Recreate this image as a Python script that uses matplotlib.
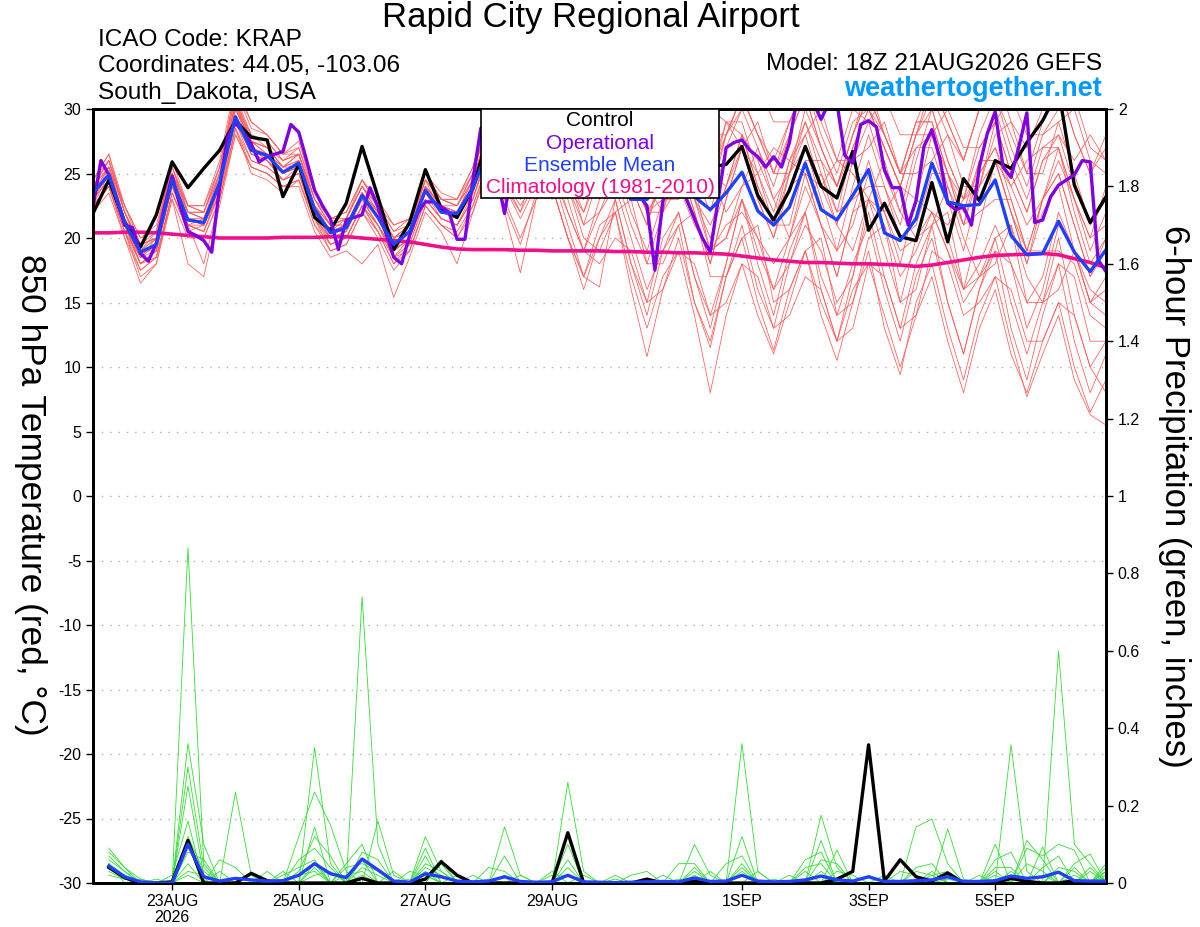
import matplotlib
matplotlib.use("Agg")
import matplotlib.pyplot as plt
import pandas as pd
import numpy as np
from matplotlib.patches import Rectangle

plt.rcParams['font.family'] = ['Liberation Sans', 'DejaVu Sans']

# forecast times (GEFS 18Z 21AUG2026 run)
times6 = pd.date_range("2026-08-21 18:00", periods=65, freq="6h")
times3 = pd.date_range("2026-08-21 18:00", periods=129, freq="3h")
ptimes = times6[1:]

# 850 hPa temperature, 6-hourly
control_t = [21.9, 24.5, 21.2, 19.3, 21.8, 25.9, 23.9, 25.4, 26.8, 29.1, 27.8, 27.6, 23.2,
             25.7, 21.6, 20.6, 22.7, 27.1, 23.2, 19.1, 21.2, 25.3, 22.3, 21.6, 23.9, 28.0,
             27.0, 26.0, 28.0, 25.5, 27.0, 29.0, 26.0, 27.5, 25.0, 28.0, 26.5, 27.0, 25.5,
             25.5, 25.7, 27.1, 23.3, 21.4, 23.7, 27.1, 24.0, 23.1, 26.7, 20.6, 22.7, 20.1,
             19.8, 24.3, 19.7, 24.6, 22.9, 26.0, 25.4, 27.4, 29.1, 31.5, 24.1, 21.2, 23.2]
mean_t = [23.5, 24.9, 21.2, 18.9, 19.5, 24.5, 21.4, 21.2, 24.3, 29.4, 26.8, 26.4, 25.1,
          25.8, 22.2, 20.4, 20.8, 23.3, 21.6, 19.5, 20.5, 23.7, 22.0, 21.9, 23.9, 27.0,
          26.5, 25.5, 26.0, 25.0, 25.5, 24.5, 24.0, 24.0, 23.0, 23.0, 24.5, 24.0, 23.2,
          22.2, 23.5, 25.1, 22.1, 21.0, 22.4, 25.8, 22.2, 21.4, 23.3, 25.3, 20.4, 19.8,
          21.5, 25.8, 22.8, 22.5, 22.6, 24.5, 20.2, 18.7, 18.8, 21.3, 18.9, 17.4, 19.1]
clim_t = [20.4, 20.4, 20.45, 20.45, 20.4, 20.3, 20.2, 20.1, 20.0, 20.0, 20.0, 20.0, 20.05,
          20.05, 20.05, 20.1, 20.1, 20.0, 19.9, 19.8, 19.7, 19.5, 19.3, 19.15, 19.1, 19.1,
          19.1, 19.05, 19.05, 19.0, 19.0, 19.0, 19.0, 18.95, 18.95, 18.9, 18.9, 18.85,
          18.85, 18.8, 18.75, 18.6, 18.45, 18.3, 18.2, 18.1, 18.1, 18.05, 18.0, 18.0,
          17.95, 17.9, 17.8, 17.9, 18.1, 18.3, 18.5, 18.65, 18.7, 18.75, 18.8, 18.7, 18.4,
          18.1, 17.7]

# operational run, 3-hourly
oper_t = [22.4, 26.0, 24.9, 23.0, 21.0, 20.8, 18.8, 18.2, 19.6, 22.3, 24.8, 22.5, 20.5,
          20.2, 19.8, 18.9, 24.0, 27.8, 28.9, 28.2, 27.3, 25.9, 26.3, 26.5, 26.7, 28.8,
          28.2, 26.0, 23.7, 22.5, 21.5, 19.1, 21.4, 21.6, 21.8, 23.9, 22.4, 20.4, 18.5,
          18.0, 20.2, 21.9, 22.8, 22.8, 22.4, 22.0, 19.9, 19.9, 24.5, 28.5, 27.5, 25.0,
          21.9, 25.5, 27.0, 28.0, 27.5, 26.5, 27.0, 28.5, 27.0, 26.0, 27.5, 28.0, 26.5,
          25.5, 26.5, 25.0, 24.0, 23.3, 22.5, 17.5, 22.8, 25.5, 26.0, 23.0, 21.5, 20.0,
          18.9, 23.0, 27.0, 27.4, 27.6, 26.8, 26.3, 25.5, 26.3, 25.5, 27.4, 31.0, 31.5,
          30.5, 29.2, 30.5, 30.5, 26.4, 25.8, 28.8, 29.1, 28.6, 25.3, 23.9, 23.9, 21.0,
          22.9, 27.1, 28.4, 26.2, 22.7, 22.2, 22.4, 21.0, 25.5, 28.1, 29.8, 25.5, 24.7,
          27.1, 29.7, 21.2, 21.4, 23.2, 24.1, 24.5, 24.9, 26.0, 25.9, 18.3, 17.4]

# ensemble members, 6-hourly
members_t = [
    [23.0, 25.5, 21.0, 18.0, 19.0, 25.0, 21.5, 21.0, 25.0, 30.5, 27.0, 26.0, 24.5, 25.0, 21.5, 20.0, 20.5,
     23.0, 21.0, 19.0, 20.0, 24.0, 22.5, 22.0, 24.5, 28.0, 24.0, 22.0, 26.0,
     28, 25, 23, 26, 29, 26, 24, 27, 30, 27, 25, 28, 31, 28, 26, 29, 32, 28, 25, 29,
     30, 27, 24, 28, 32, 29, 26, 30, 33, 29, 27, 30, 32, 28, 25, 28],
    [22.5, 24.0, 20.5, 17.5, 18.5, 23.5, 20.5, 20.0, 23.0, 28.0, 25.5, 25.0, 24.0, 24.5, 21.0, 19.0, 19.5,
     22.0, 20.0, 17.5, 19.0, 22.5, 21.0, 20.0, 22.5, 26.0, 22.0, 17.3, 23.0,
     24, 20, 17, 20, 22, 17, 13, 17, 19, 14, 8, 14, 18, 14, 11, 15, 19, 15, 12, 16,
     18, 14, 10, 14, 17, 12, 8, 13, 16, 11, 8, 12, 15, 10, 6.5, 9],
    [24.0, 26.0, 22.0, 19.5, 20.0, 25.5, 22.0, 22.0, 25.5, 31.0, 28.0, 27.5, 26.0, 27.0, 23.0, 21.0, 21.5,
     24.5, 22.5, 20.0, 21.0, 25.0, 23.0, 22.5, 25.0, 29.5, 27.0, 25.0, 28.0,
     27, 29, 25, 23, 26, 28, 24, 22, 27, 29, 25, 22, 24, 27, 23, 20, 22, 25, 21, 19,
     23, 26, 22, 20, 21, 24, 20, 17, 18, 21, 17, 15, 16, 19, 15, 14],
    [22.0, 24.5, 20.5, 18.5, 19.0, 24.0, 21.0, 20.5, 23.5, 29.0, 26.0, 25.5, 24.5, 25.5, 22.0, 19.5, 20.0,
     22.5, 21.0, 18.5, 19.5, 23.0, 21.5, 21.0, 23.0, 27.0, 25.0, 23.0, 25.5,
     26, 22, 19, 22, 24, 20, 16, 19, 22, 17, 14, 18, 23, 19, 16, 20, 25, 21, 17, 22,
     26, 22, 18, 23, 28, 24, 21, 25, 27, 23, 19, 23, 25, 21, 17, 20],
    [23.5, 25.0, 21.5, 19.0, 19.5, 24.0, 21.0, 21.5, 24.5, 30.0, 27.5, 27.0, 25.5, 26.5, 22.5, 21.0, 21.0,
     23.5, 22.0, 19.5, 20.5, 24.5, 22.0, 21.5, 24.0, 27.5, 26.0, 24.0, 26.5,
     27, 24, 22, 25, 28, 24, 21, 25, 26, 22, 18, 23, 27, 23, 20, 25, 30, 27, 24, 28,
     31, 28, 25, 29, 29, 25, 22, 26, 26, 22, 18, 22, 24, 19, 15, 16],
    [24.5, 26.5, 22.0, 19.0, 20.5, 25.5, 22.5, 22.0, 25.5, 31.5, 28.5, 28.0, 26.5, 27.5, 23.5, 21.5, 21.5,
     24.0, 22.5, 20.5, 21.0, 24.5, 23.0, 22.5, 25.0, 29.0, 28.0, 26.0, 27.0,
     29, 27, 29, 28, 30, 28, 29, 31, 31, 28, 30, 29, 27, 25, 27, 26, 25, 24, 26, 25,
     23, 22, 24, 23, 22, 21, 23, 24, 26, 24, 26, 27, 28, 26, 28, 26],
    [22.5, 24.0, 20.0, 16.5, 18.0, 23.0, 20.0, 20.0, 23.0, 28.5, 25.0, 24.5, 23.5, 24.5, 21.0, 19.5, 20.0,
     22.5, 20.5, 18.0, 19.0, 22.5, 21.0, 20.0, 22.0, 25.5, 22.5, 19.5, 23.5,
     24, 20, 17, 21, 22, 16, 10.8, 16, 20, 15, 12, 17, 21, 16, 13, 18, 22, 17, 14, 18,
     21, 16, 12, 17, 20, 15, 11, 16, 19, 13, 9, 14, 18, 12, 8, 11],
    [23.0, 25.0, 21.0, 18.5, 19.5, 24.5, 21.5, 21.0, 24.0, 29.5, 27.0, 26.5, 25.0, 26.0, 22.5, 20.5, 21.0,
     23.5, 21.5, 19.5, 20.5, 24.0, 22.5, 22.0, 24.0, 28.0, 26.5, 24.0, 26.5,
     27, 24, 21, 25, 26, 22, 19, 23, 27, 23, 20, 24, 28, 24, 21, 25, 27, 23, 19, 24,
     28, 24, 21, 26, 30, 26, 23, 27, 29, 25, 22, 26, 27, 23, 19, 22],
    [24.0, 25.5, 22.5, 20.0, 20.5, 25.0, 22.5, 22.5, 26.0, 32.0, 29.0, 28.0, 26.5, 26.5, 22.5, 20.5, 21.5,
     24.0, 22.5, 21.0, 21.5, 25.0, 23.0, 23.0, 25.5, 30.5, 29.0, 27.0, 29.0,
     31, 29, 27, 30, 32, 29, 26, 30, 29, 26, 23, 28, 31, 28, 25, 29, 32, 29, 26, 30,
     30, 27, 24, 28, 31, 28, 26, 30, 31, 28, 25, 29, 32, 28, 25, 27],
    [22.0, 23.5, 20.0, 17.5, 18.5, 23.0, 18.0, 17.0, 22.5, 28.0, 25.5, 25.0, 24.0, 24.0, 20.5, 18.5, 19.0,
     18.0, 19.5, 15.4, 18.5, 22.0, 20.5, 18.0, 22.0, 26.0, 24.0, 21.5, 24.0,
     25, 21, 17, 16.2, 23, 18, 14, 19, 21, 15, 11.5, 17, 20, 15, 11.3, 16, 19, 14, 10.5, 15,
     19, 13, 9.4, 15, 18, 13, 9, 14, 17, 12, 7.7, 11, 14, 9, 6.3, 5.5],
    [23.5, 25.0, 21.0, 18.5, 19.5, 24.5, 21.5, 21.5, 24.5, 30.0, 27.0, 26.0, 25.0, 26.0, 22.0, 20.0, 20.5,
     23.0, 21.5, 19.0, 20.0, 23.5, 22.0, 21.5, 23.5, 27.5, 25.0, 23.5, 26.5,
     26, 28, 24, 23, 27, 26, 22, 24, 25, 23, 19, 21, 22, 20, 16, 18, 21, 19, 15, 17,
     23, 21, 17, 19, 22, 19, 15, 17, 19, 18, 13, 16, 21, 19, 15, 17],
    [24.5, 26.0, 22.0, 19.5, 20.0, 25.0, 21.0, 20.5, 24.0, 30.5, 27.5, 27.0, 25.5, 26.5, 23.0, 21.0, 21.5,
     24.0, 22.0, 20.0, 20.5, 24.0, 22.5, 22.0, 24.5, 28.5, 27.0, 25.5, 27.5,
     28, 26, 24, 27, 30, 27, 25, 29, 32, 28, 25, 29, 29, 25, 22, 26, 28, 24, 21, 26,
     29, 25, 22, 27, 27, 23, 19, 24, 29, 25, 22, 26, 28, 24, 21, 23],
    [23.0, 24.5, 21.5, 19.0, 19.0, 24.0, 21.5, 21.0, 24.0, 29.0, 26.5, 26.5, 25.0, 25.5, 22.0, 20.5, 21.0,
     23.5, 21.5, 19.5, 20.5, 23.5, 22.0, 22.0, 24.0, 27.0, 25.5, 23.0, 25.0,
     24, 25, 21, 22, 25, 26, 22, 23, 23, 24, 19, 20, 24, 25, 21, 21, 26, 26, 22, 23,
     24, 24, 20, 21, 25, 25, 21, 22, 23, 23, 19, 19, 19, 18, 14, 13],
    [24.0, 25.5, 21.5, 19.0, 20.0, 25.0, 22.0, 21.5, 25.0, 31.0, 27.5, 26.5, 25.5, 26.0, 22.5, 21.0, 21.0,
     23.5, 22.0, 20.0, 21.0, 24.0, 22.5, 22.5, 24.5, 28.5, 26.5, 24.5, 27.0,
     29, 27, 25, 28, 29, 26, 24, 27, 30, 27, 24, 28, 31, 28, 25, 28, 31, 27, 24, 28,
     32, 28, 25, 29, 32, 29, 26, 30, 30, 26, 23, 27, 27, 22, 18, 20],
    [22.5, 24.0, 20.5, 18.0, 18.5, 23.5, 20.5, 21.0, 23.5, 28.5, 26.0, 25.5, 24.5, 25.0, 21.5, 19.0, 19.5,
     22.0, 20.5, 18.0, 19.5, 23.0, 21.5, 21.0, 23.0, 26.5, 24.5, 22.0, 24.5,
     23, 24, 20, 19, 22, 23, 18, 18, 21, 22, 17, 17, 20, 21, 15, 16, 19, 20, 14, 15,
     20, 21, 15, 16, 21, 22, 16, 17, 20, 21, 15, 15, 18, 17, 12, 12],
    [23.5, 25.5, 22.0, 19.0, 19.5, 24.5, 21.0, 21.0, 24.0, 30.0, 27.5, 26.5, 25.0, 25.5, 22.0, 20.0, 21.0,
     23.0, 21.0, 19.0, 20.0, 24.0, 22.0, 21.5, 24.0, 28.0, 26.0, 24.0, 26.0,
     28, 25, 22, 26, 28, 24, 21, 26, 29, 25, 22, 27, 30, 27, 24, 28, 31, 27, 24, 28,
     31, 28, 25, 29, 29, 25, 21, 26, 26, 22, 18, 23, 25, 21, 17, 19],
    [23.0, 25.0, 21.0, 18.0, 19.0, 24.5, 22.0, 21.5, 24.5, 29.5, 26.5, 26.0, 25.0, 25.5, 22.5, 20.5, 20.5,
     23.0, 21.0, 19.0, 20.0, 23.5, 21.5, 21.0, 23.5, 27.0, 25.5, 23.0, 24.5,
     25, 22, 19, 23, 25, 21, 18, 22, 26, 22, 18, 23, 27, 23, 20, 24, 25, 21, 17, 22,
     23, 19, 15, 20, 24, 20, 16, 21, 26, 22, 19, 23, 27, 23, 20, 24],
    [24.0, 26.0, 22.5, 20.0, 21.0, 25.5, 22.0, 22.0, 25.0, 30.5, 28.0, 27.0, 26.0, 26.5, 23.0, 21.5, 22.0,
     24.5, 23.0, 21.0, 21.5, 24.5, 23.0, 23.0, 25.0, 29.0, 27.5, 26.0, 28.0,
     28, 30, 27, 27, 27, 29, 26, 25, 26, 28, 25, 24, 27, 29, 25, 25, 28, 30, 26, 26,
     27, 29, 25, 25, 26, 28, 24, 24, 28, 29, 25, 25, 29, 30, 26, 25],
    [22.5, 24.0, 20.5, 17.0, 18.0, 23.5, 21.0, 18.0, 23.0, 28.5, 25.5, 25.0, 24.0, 24.5, 21.5, 19.5, 20.0,
     22.5, 20.5, 18.5, 19.0, 22.5, 21.0, 20.5, 22.5, 26.0, 23.0, 20.0, 23.0,
     24, 20, 16, 20, 23, 18, 15, 20, 22, 17, 13, 18, 23, 18, 14, 19, 22, 16, 12, 17,
     22, 17, 13, 18, 21, 15, 11, 16, 20, 15, 11, 15, 20, 14, 10, 12],
    [24.5, 26.5, 22.5, 19.5, 20.5, 26.0, 22.5, 22.5, 25.5, 31.5, 29.0, 28.0, 26.5, 27.0, 23.5, 21.5, 22.0,
     24.5, 22.5, 20.5, 21.5, 25.0, 23.5, 23.0, 25.5, 30.0, 28.5, 27.0, 29.0,
     31, 29, 27, 30, 31, 28, 26, 30, 30, 27, 24, 29, 28, 24, 21, 26, 29, 25, 22, 27,
     30, 27, 24, 28, 30, 26, 23, 28, 31, 27, 24, 28, 29, 25, 21, 23],
    [23.0, 24.5, 21.0, 18.5, 20.0, 24.0, 21.5, 21.0, 24.5, 29.0, 27.0, 26.5, 25.5, 25.5, 22.5, 20.5, 21.0,
     23.5, 21.5, 19.0, 20.5, 23.5, 22.0, 22.0, 23.5, 27.0, 26.0, 23.5, 25.0,
     24, 23, 19, 18, 20, 19, 15, 16, 19, 18, 14, 15, 18, 17, 13, 14, 17, 16, 12, 13,
     18, 17, 13, 14, 19, 18, 14, 15, 17, 16, 12, 12, 15, 14, 10, 8],
    [24.0, 26.0, 22.0, 19.0, 20.0, 25.0, 22.5, 22.0, 25.0, 30.0, 28.0, 27.5, 26.0, 26.5, 23.0, 21.0, 21.5,
     24.0, 22.0, 20.0, 21.0, 24.5, 23.0, 22.5, 24.5, 28.5, 27.5, 25.5, 27.5,
     26, 27, 24, 25, 28, 29, 26, 27, 29, 31, 28, 28, 30, 32, 29, 29, 31, 33, 30, 30,
     29, 31, 28, 28, 28, 30, 27, 27, 29, 31, 28, 28, 30, 31, 27, 26],
    [22.5, 25.0, 21.0, 18.0, 19.0, 24.0, 21.0, 20.5, 23.5, 29.5, 26.5, 26.0, 24.5, 25.0, 21.5, 20.0, 20.0,
     22.5, 21.0, 18.5, 20.0, 23.0, 21.5, 21.0, 23.0, 27.0, 24.5, 22.5, 24.5,
     26, 24, 23, 24, 27, 25, 22, 22, 24, 21, 19, 20, 23, 20, 18, 20, 24, 21, 19, 21,
     25, 22, 19, 20, 22, 19, 16, 18, 21, 18, 15, 17, 22, 19, 16, 15],
    [23.5, 25.5, 21.5, 19.5, 20.0, 25.0, 22.0, 21.5, 24.5, 30.5, 27.5, 27.0, 25.5, 26.0, 22.0, 20.5, 21.0,
     23.5, 22.0, 20.0, 20.5, 24.0, 22.5, 22.0, 24.0, 28.0, 26.5, 24.5, 26.5,
     29, 27, 25, 26, 28, 25, 22, 24, 26, 23, 21, 24, 28, 26, 23, 25, 29, 26, 24, 27,
     30, 28, 25, 27, 28, 25, 23, 25, 27, 24, 21, 23, 26, 23, 20, 21],
]

# 6-hour precipitation (inches), valid 22AUG 00Z onward
control_p = [0.04, 0.014, 0, 0, 0.003, 0.11, 0, 0, 0, 0.025, 0.006, 0, 0, 0, 0, 0,
             0.012, 0, 0, 0, 0.01, 0.055, 0.02, 0, 0, 0, 0, 0, 0, 0.13, 0, 0,
             0, 0, 0.01, 0, 0, 0.005, 0, 0, 0, 0, 0, 0, 0, 0, 0.01, 0.03,
             0.357, 0.005, 0.06, 0.016, 0.005, 0.026, 0, 0, 0, 0.012, 0.004, 0, 0, 0.006, 0, 0]
mean_p = [0.044, 0.016, 0.003, 0, 0, 0.10, 0.016, 0.005, 0.012, 0.008, 0.005, 0.006, 0.02, 0.05, 0.024, 0.014,
          0.062, 0.034, 0.005, 0.002, 0.024, 0.016, 0.005, 0.003, 0.005, 0.016, 0.004, 0.002, 0.003, 0.02, 0.003, 0.002,
          0.001, 0.002, 0.003, 0.004, 0.003, 0.013, 0.004, 0.005, 0.02, 0.005, 0.003, 0.004, 0.008, 0.018, 0.008, 0.005,
          0.016, 0.004, 0.004, 0.006, 0.008, 0.016, 0.004, 0.004, 0.006, 0.018, 0.012, 0.016, 0.028, 0.006, 0.005, 0.005]
members_p = [
    [0.07, 0.03, 0, 0, 0, 0.866, 0.05, 0, 0, 0, 0, 0, 0, 0.05, 0, 0,
     0.74, 0.1, 0, 0, 0.02, 0, 0, 0, 0, 0, 0, 0, 0, 0.26, 0.03, 0,
     0, 0, 0, 0, 0, 0, 0, 0, 0.36, 0.03, 0, 0, 0, 0, 0, 0,
     0, 0, 0, 0, 0, 0, 0, 0, 0, 0.02, 0, 0, 0.6, 0.1, 0.05, 0],
    [0.09, 0.04, 0.01, 0, 0, 0.36, 0.1, 0, 0.235, 0.02, 0, 0, 0, 0.35, 0.05, 0,
     0, 0, 0, 0, 0.12, 0.03, 0, 0, 0, 0.145, 0.02, 0, 0, 0, 0, 0,
     0, 0, 0, 0, 0, 0.1, 0.02, 0, 0, 0, 0, 0, 0, 0.175, 0.04, 0,
     0, 0, 0, 0.145, 0.165, 0.05, 0, 0, 0, 0.357, 0.03, 0, 0, 0, 0, 0],
    [0.05, 0.02, 0, 0, 0, 0.30, 0.04, 0, 0, 0, 0, 0, 0.12, 0.235, 0.15, 0.03,
     0, 0.16, 0.02, 0, 0, 0.06, 0, 0, 0, 0.07, 0, 0, 0, 0.1, 0, 0,
     0, 0, 0, 0, 0.05, 0.05, 0, 0, 0.12, 0, 0, 0, 0, 0.11, 0, 0,
     0, 0, 0, 0, 0, 0.14, 0.01, 0, 0.1, 0, 0, 0.093, 0, 0, 0, 0.05],
    [0.06, 0.03, 0, 0, 0, 0.25, 0.02, 0, 0, 0, 0, 0.03, 0, 0.145, 0, 0.05,
     0.1, 0, 0, 0, 0.09, 0, 0.02, 0, 0, 0, 0, 0, 0.03, 0, 0, 0,
     0, 0, 0, 0, 0, 0, 0, 0.05, 0.07, 0, 0, 0, 0.06, 0.08, 0, 0,
     0, 0, 0, 0, 0.03, 0, 0, 0, 0.03, 0, 0.09, 0.07, 0.1, 0.085, 0, 0.03],
    [0.04, 0.02, 0, 0, 0.02, 0.16, 0, 0.03, 0, 0, 0, 0, 0.06, 0.09, 0.04, 0,
     0.08, 0.06, 0, 0, 0.07, 0, 0, 0.02, 0, 0, 0, 0, 0, 0, 0, 0,
     0, 0.02, 0.03, 0, 0, 0.03, 0, 0, 0, 0.03, 0, 0, 0.03, 0, 0.085, 0,
     0, 0.02, 0, 0, 0, 0, 0, 0.02, 0, 0, 0.11, 0.06, 0, 0.05, 0.075, 0],
    [0.03, 0.01, 0, 0, 0, 0.12, 0.03, 0, 0, 0, 0, 0.02, 0.04, 0.06, 0, 0.04,
     0.05, 0.03, 0, 0.01, 0, 0.05, 0, 0, 0.04, 0.03, 0, 0, 0, 0.04, 0, 0,
     0.01, 0, 0, 0.02, 0, 0, 0, 0, 0.04, 0, 0, 0, 0, 0.06, 0.05, 0,
     0, 0, 0, 0.04, 0.05, 0, 0, 0, 0.04, 0.04, 0, 0, 0.04, 0.03, 0, 0.02],
    [0.08, 0.04, 0, 0.01, 0, 0.08, 0.06, 0, 0, 0.02, 0, 0, 0.03, 0.12, 0.07, 0,
     0.06, 0, 0.03, 0, 0.05, 0.03, 0, 0, 0, 0, 0.02, 0, 0, 0.06, 0, 0,
     0, 0, 0, 0, 0, 0.04, 0, 0, 0.05, 0, 0, 0.02, 0, 0.03, 0, 0,
     0.02, 0, 0, 0, 0.02, 0.03, 0, 0, 0.06, 0.08, 0, 0.04, 0.07, 0, 0.03, 0],
    [0.05, 0, 0.01, 0, 0, 0.05, 0, 0.06, 0.04, 0, 0, 0, 0, 0.04, 0, 0.02,
     0.03, 0, 0, 0, 0.03, 0, 0, 0, 0.01, 0, 0, 0, 0, 0, 0.02, 0,
     0, 0, 0, 0, 0.01, 0, 0, 0, 0.03, 0, 0, 0, 0.04, 0.05, 0, 0,
     0, 0, 0.03, 0.02, 0, 0.02, 0, 0, 0, 0, 0.05, 0.03, 0, 0.04, 0, 0.04],
    [0.02, 0.01, 0, 0, 0, 0.03, 0.02, 0, 0, 0, 0.03, 0, 0, 0.02, 0.03, 0,
     0.04, 0.02, 0, 0, 0.04, 0.02, 0, 0, 0, 0, 0, 0, 0.02, 0.02, 0, 0,
     0, 0, 0, 0, 0, 0, 0.03, 0, 0.02, 0, 0.01, 0, 0, 0, 0.03, 0.02,
     0, 0, 0, 0.03, 0.02, 0, 0, 0, 0, 0.03, 0, 0, 0.03, 0, 0.04, 0],
    [0.04, 0.02, 0, 0, 0, 0.02, 0, 0, 0, 0, 0, 0, 0.02, 0.03, 0, 0,
     0.02, 0, 0, 0.03, 0.02, 0, 0, 0, 0, 0.02, 0, 0, 0, 0, 0, 0,
     0.02, 0, 0, 0, 0, 0.02, 0, 0, 0.02, 0, 0, 0, 0, 0.02, 0, 0,
     0, 0, 0, 0, 0, 0.01, 0, 0, 0.02, 0, 0, 0.02, 0, 0.02, 0, 0.03],
]

tick_days = ["2026-08-23", "2026-08-25", "2026-08-27", "2026-08-29",
             "2026-09-01", "2026-09-03", "2026-09-05"]
tick_labels = ["23AUG\n2026", "25AUG", "27AUG", "29AUG", "1SEP", "3SEP", "5SEP"]

RED = "#ff5a5a"
GREEN = "#33dd33"
PURPLE = "#7f00e0"
BLUE = "#2040ff"
MAGENTA = "#f0108a"

fig = plt.figure(figsize=(12, 9.27), dpi=100)
ax = fig.add_axes([93 / 1200, 1 - 883 / 927, 1013 / 1200, 774 / 927])

for v in range(-25, 30, 5):
    ax.axhline(v, color="#b0b0b0", lw=1, ls=(0, (1, 5)), zorder=0)

for m in members_t:
    ax.plot(times6, m, color=RED, lw=0.55, zorder=1)
ax.plot(times6, clim_t, color=MAGENTA, lw=2.6, zorder=3)
ax.plot(times6, control_t, color="black", lw=2.4, zorder=4)
ax.plot(times3, oper_t, color=PURPLE, lw=2.4, zorder=5)
ax.plot(times6, mean_t, color=BLUE, lw=2.4, zorder=6)

ax.set_xlim(times6[0], times6[-1])
ax.set_ylim(-30, 30)
ax.set_yticks(range(-30, 31, 5))
ax.set_yticklabels([str(v) for v in range(-30, 31, 5)])
ax.set_xticks(pd.to_datetime(tick_days))
ax.set_xticklabels(tick_labels, linespacing=1.1)
ax.tick_params(axis="both", labelsize=11.5, length=5, width=1, direction="out")
ax.tick_params(axis="x", pad=3)
for s in ax.spines.values():
    s.set_linewidth(2)

ax2 = ax.twinx()
for g in members_p:
    ax2.plot(ptimes, g, color=GREEN, lw=0.6, zorder=1)
ax2.plot(ptimes, control_p, color="black", lw=2.4, zorder=4)
ax2.plot(ptimes, mean_p, color=BLUE, lw=2.4, zorder=5)
ax2.set_ylim(0, 2)
pt = np.round(np.arange(0, 2.01, 0.2), 1)
ax2.set_yticks(pt)
ax2.set_yticklabels([("%g" % v) for v in pt])
ax2.tick_params(axis="y", labelsize=11.5, length=5, width=1, direction="out")
for s in ax2.spines.values():
    s.set_linewidth(2)

# legend box
ax2.add_patch(Rectangle((0.383, 0.885), 0.235, 0.115, transform=ax2.transAxes,
                        facecolor="white", edgecolor="black", lw=1.2, zorder=20))
leg = [("Control", "black"), ("Operational", PURPLE),
       ("Ensemble Mean", BLUE), ("Climatology (1981-2010)", MAGENTA)]
for k, (txt, col) in enumerate(leg):
    ax2.text(0.5005, 0.9845 - k * 0.0285, txt, color=col, fontsize=15,
             ha="center", va="center", transform=ax2.transAxes, zorder=21)

fig.text(591 / 1200, 1 - 18 / 927, "Rapid City Regional Airport", fontsize=25,
         ha="center", va="center")
hdr = 17.6
fig.text(98 / 1200, 1 - 40 / 927, "ICAO Code: KRAP", fontsize=hdr, ha="left", va="center")
fig.text(98 / 1200, 1 - 66 / 927, "Coordinates: 44.05, -103.06", fontsize=hdr, ha="left", va="center")
fig.text(98 / 1200, 1 - 93 / 927, "South_Dakota, USA", fontsize=hdr, ha="left", va="center")
fig.text(1102 / 1200, 1 - 64 / 927, "Model: 18Z 21AUG2026 GEFS", fontsize=hdr, ha="right", va="center")
fig.text(1102 / 1200, 1 - 89 / 927, "weathertogether.net", fontsize=19.5, fontweight="bold",
         color="#0099ff", ha="right", va="center")

fig.text(30 / 1200, 1 - 495 / 927, "850 hPa Temperature (red, °C)", fontsize=25.4,
         rotation=270, ha="center", va="center")
fig.text(1175 / 1200, 1 - 496 / 927, "6-hour Precipitation (green, inches)", fontsize=25,
         rotation=270, ha="center", va="center")

fig.savefig("out.png", dpi=100)
